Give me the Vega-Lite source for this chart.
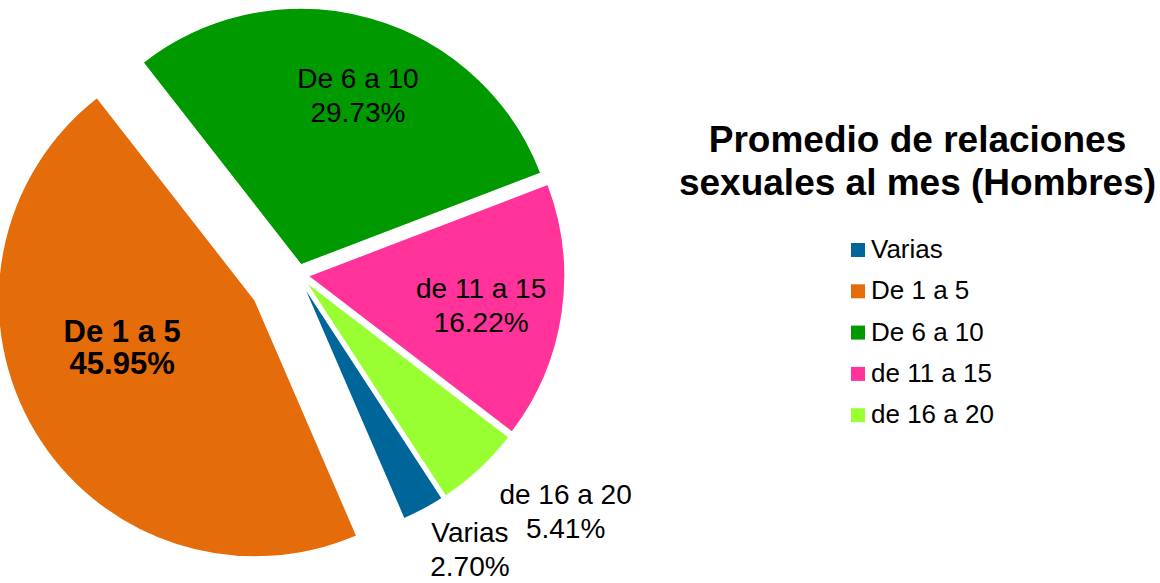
{
  "$schema": "https://vega.github.io/schema/vega-lite/v6.json",
  "width": 604,
  "height": 560,
  "autosize": {"type": "none"},
  "padding": {"left": 0, "top": 0, "right": 556, "bottom": 23},
  "background": "white",
  "config": {"view": {"stroke": null}, "font": "Liberation Sans"},
  "title": {
    "text": ["Promedio de relaciones", "sexuales al mes (Hombres)"],
    "anchor": "middle",
    "frame": "group",
    "orient": "top",
    "baseline": "top",
    "offset": -189,
    "dx": 615.5,
    "dy": 122,
    "fontSize": 37,
    "fontWeight": "bold",
    "font": "Liberation Sans",
    "color": "black",
    "lineHeight": 43
  },
  "data": {
    "values": [
      {"cat": "Varias", "n": 1, "order": 1, "label": "Varias\n2.70%"},
      {"cat": "De 1 a 5", "n": 17, "order": 2, "label": "De 1 a 5\n45.95%"},
      {"cat": "De 6 a 10", "n": 11, "order": 3, "label": "De 6 a 10\n29.73%"},
      {"cat": "de 11 a 15", "n": 6, "order": 4, "label": "de 11 a 15\n16.22%"},
      {"cat": "de 16 a 20", "n": 2, "order": 5, "label": "de 16 a 20\n5.41%"}
    ]
  },
  "encoding": {
    "theta": {"field": "n", "type": "quantitative", "stack": true, "scale": {"range": [2.564, 8.847]}},
    "order": {"field": "order", "type": "quantitative", "sort": "ascending"},
    "color": {
      "field": "cat",
      "type": "nominal",
      "sort": ["Varias", "De 1 a 5", "De 6 a 10", "de 11 a 15", "de 16 a 20"],
      "scale": {
        "domain": ["Varias", "De 1 a 5", "De 6 a 10", "de 11 a 15", "de 16 a 20"],
        "range": ["#006699", "#E46C0A", "#009900", "#FF3399", "#99FF33"]
      },
      "legend": {
        "orient": "none",
        "legendX": 845,
        "legendY": 237,
        "title": null,
        "symbolType": "square",
        "symbolSize": 196,
        "symbolStrokeWidth": 0,
        "labelFontSize": 26,
        "labelFont": "Liberation Sans",
        "labelColor": "black",
        "rowPadding": 15.3,
        "labelOffset": 0,
        "padding": 0,
        "labelLimit": 400
      }
    }
  },
  "layer": [
    {
      "mark": {"type": "arc", "outerRadius": 257, "xOffset": 0, "yOffset": 3, "stroke": "white", "strokeWidth": 1.5},
      "encoding": {"opacity": {"condition": {"test": "datum.cat === 'Varias'", "value": 1}, "value": 0}}
    },
    {
      "mark": {"type": "arc", "outerRadius": 257, "xOffset": 3, "yOffset": 1, "stroke": "white", "strokeWidth": 1.5},
      "encoding": {"opacity": {"condition": {"test": "datum.cat === 'de 16 a 20'", "value": 1}, "value": 0}}
    },
    {
      "mark": {"type": "arc", "outerRadius": 257, "xOffset": 6, "yOffset": -4, "stroke": "white", "strokeWidth": 1.5},
      "encoding": {"opacity": {"condition": {"test": "datum.cat === 'de 11 a 15'", "value": 1}, "value": 0}}
    },
    {
      "mark": {"type": "arc", "outerRadius": 257, "xOffset": -1, "yOffset": -15, "stroke": "white", "strokeWidth": 1.5},
      "encoding": {"opacity": {"condition": {"test": "datum.cat === 'De 6 a 10'", "value": 1}, "value": 0}}
    },
    {
      "mark": {"type": "arc", "outerRadius": 257, "xOffset": -47, "yOffset": 20, "stroke": "white", "strokeWidth": 1.5},
      "encoding": {"opacity": {"condition": {"test": "datum.cat === 'De 1 a 5'", "value": 1}, "value": 0}}
    },
    {
      "mark": {"type": "text", "radius": 317, "dx": 18, "dy": -25, "fontSize": 28, "lineBreak": "\n", "lineHeight": 34, "align": "center", "baseline": "middle", "font": "Liberation Sans"},
      "encoding": {"text": {"condition": {"test": "datum.cat === 'Varias'", "field": "label", "type": "nominal"}, "value": ""}, "color": {"value": "black"}}
    },
    {
      "mark": {"type": "text", "radius": 348, "dx": 27, "dy": -39, "fontSize": 28, "lineBreak": "\n", "lineHeight": 34, "align": "center", "baseline": "middle", "font": "Liberation Sans"},
      "encoding": {"text": {"condition": {"test": "datum.cat === 'de 16 a 20'", "field": "label", "type": "nominal"}, "value": ""}, "color": {"value": "black"}}
    },
    {
      "mark": {"type": "text", "radius": 181, "dx": 0, "dy": -16, "fontSize": 28, "lineBreak": "\n", "lineHeight": 34, "align": "center", "baseline": "middle", "font": "Liberation Sans"},
      "encoding": {"text": {"condition": {"test": "datum.cat === 'de 11 a 15'", "field": "label", "type": "nominal"}, "value": ""}, "color": {"value": "black"}}
    },
    {
      "mark": {"type": "text", "radius": 190, "dx": 5, "dy": -17, "fontSize": 28, "lineBreak": "\n", "lineHeight": 34, "align": "center", "baseline": "middle", "font": "Liberation Sans"},
      "encoding": {"text": {"condition": {"test": "datum.cat === 'De 6 a 10'", "field": "label", "type": "nominal"}, "value": ""}, "color": {"value": "black"}}
    },
    {
      "mark": {"type": "text", "radius": 187, "dx": -19, "dy": -42, "fontSize": 31, "fontWeight": "bold", "lineBreak": "\n", "lineHeight": 32, "align": "center", "baseline": "middle", "font": "Liberation Sans"},
      "encoding": {"text": {"condition": {"test": "datum.cat === 'De 1 a 5'", "field": "label", "type": "nominal"}, "value": ""}, "color": {"value": "black"}}
    }
  ]
}
